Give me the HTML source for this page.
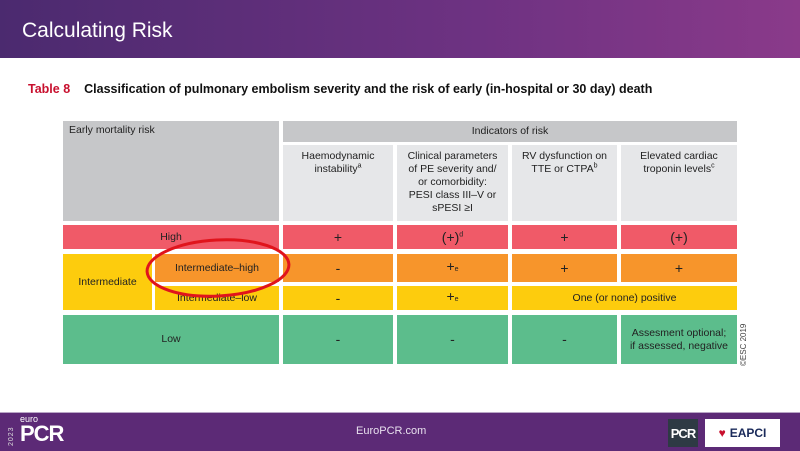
<!DOCTYPE html>
<html><head><meta charset="utf-8"><style>
body{margin:0;width:800px;height:450px;overflow:hidden;background:#fff;font-family:"Liberation Sans",sans-serif;position:relative}
.c{position:absolute;display:flex;align-items:center;justify-content:center;text-align:center;font-size:10.5px;color:#222;line-height:13px;box-sizing:border-box}
.g{background:#c6c7c9}.lg{background:#e6e7e9}.r{background:#f05a68}.o{background:#f7952b}.y{background:#fdcc0d}.gr{background:#5cbd8c}
.p{font-size:14px}
sup{font-size:7px;line-height:0}
</style></head><body>
<div style="position:absolute;left:0;top:0;width:800px;height:58px;background:linear-gradient(90deg,#4b2a6f,#6e3282 60%,#8a3a8a)"></div>
<div style="position:absolute;left:22px;top:19px;color:#fff;font-size:21px">Calculating Risk</div>
<div style="position:absolute;left:28px;top:82px;font-size:12.5px;font-weight:bold;color:#111"><span style="color:#c8102e;margin-right:14px">Table 8</span>Classification of pulmonary embolism severity and the risk of early (in-hospital or 30 day) death</div>

<div class="c g" style="left:63px;top:121px;width:216px;height:100px;align-items:flex-start;justify-content:flex-start;padding:3px 6px">Early mortality risk</div>
<div class="c g" style="left:283px;top:121px;width:454px;height:21px">Indicators of risk</div>
<div class="c lg" style="left:283px;top:145px;width:110px;height:76px;align-items:flex-start;padding-top:5px"><div>Haemodynamic<br>instability<sup>a</sup></div></div>
<div class="c lg" style="left:397px;top:145px;width:111px;height:76px;align-items:flex-start;padding-top:5px"><div>Clinical parameters<br>of PE severity and/<br>or comorbidity:<br>PESI class III–V or<br>sPESI ≥I</div></div>
<div class="c lg" style="left:512px;top:145px;width:105px;height:76px;align-items:flex-start;padding-top:5px"><div>RV dysfunction on<br>TTE or CTPA<sup>b</sup></div></div>
<div class="c lg" style="left:621px;top:145px;width:116px;height:76px;align-items:flex-start;padding-top:5px"><div>Elevated cardiac<br>troponin levels<sup>c</sup></div></div>

<div class="c r" style="left:63px;top:225px;width:216px;height:24px">High</div>
<div class="c r p" style="left:283px;top:225px;width:110px;height:24px">+</div>
<div class="c r p" style="left:397px;top:225px;width:111px;height:24px"><div>(+)<sup>d</sup></div></div>
<div class="c r p" style="left:512px;top:225px;width:105px;height:24px">+</div>
<div class="c r p" style="left:621px;top:225px;width:116px;height:24px">(+)</div>

<div class="c y" style="left:63px;top:254px;width:89px;height:56px">Intermediate</div>
<div class="c o" style="left:155px;top:254px;width:124px;height:28px">Intermediate–high</div>
<div class="c o p" style="left:283px;top:254px;width:110px;height:28px">-</div>
<div class="c o p" style="left:397px;top:254px;width:111px;height:28px"><div>+<span style="font-size:7px">e</span></div></div>
<div class="c o p" style="left:512px;top:254px;width:105px;height:28px">+</div>
<div class="c o p" style="left:621px;top:254px;width:116px;height:28px">+</div>

<div class="c y" style="left:155px;top:286px;width:124px;height:24px">Intermediate–low</div>
<div class="c y p" style="left:283px;top:286px;width:110px;height:24px">-</div>
<div class="c y p" style="left:397px;top:286px;width:111px;height:24px"><div>+<span style="font-size:7px">e</span></div></div>
<div class="c y" style="left:512px;top:286px;width:225px;height:24px">One (or none) positive</div>

<div class="c gr" style="left:63px;top:315px;width:216px;height:49px">Low</div>
<div class="c gr p" style="left:283px;top:315px;width:110px;height:49px">-</div>
<div class="c gr p" style="left:397px;top:315px;width:111px;height:49px">-</div>
<div class="c gr p" style="left:512px;top:315px;width:105px;height:49px">-</div>
<div class="c gr" style="left:621px;top:315px;width:116px;height:49px"><div>Assesment optional;<br>if assessed, negative</div></div>
<div style="position:absolute;left:739px;top:366px;transform:rotate(-90deg);transform-origin:0 0;font-size:8px;color:#444;white-space:nowrap">©ESC 2019</div>

<svg style="position:absolute;left:0;top:0" width="800" height="450"><ellipse cx="218" cy="268" rx="71" ry="28" fill="none" stroke="#e0141c" stroke-width="3" transform="rotate(-3 218 268)"/></svg>

<div style="position:absolute;left:0;top:412px;width:800px;height:38px;background:#5c2a76;border-top:1px solid #b9a6c6"></div>
<div style="position:absolute;left:8px;top:414px;color:#fff">
<span style="position:absolute;left:0;top:32px;transform:rotate(-90deg);transform-origin:0 0;font-size:7px;letter-spacing:1px;color:#ddd">2023</span>
<span style="position:absolute;left:12px;top:0;font-size:9px">euro</span>
<span style="position:absolute;left:12px;top:7px;font-size:22px;font-weight:bold;letter-spacing:-1px">PCR</span></div>
<div style="position:absolute;left:356px;top:425px;color:#e8e0ee;font-size:11px">EuroPCR.com</div>
<div style="position:absolute;left:668px;top:419px;width:30px;height:28px;background:#2e3a44;color:#fff;font-weight:bold;font-size:13px;display:flex;align-items:center;justify-content:center;letter-spacing:-1px">PCR</div>
<div style="position:absolute;left:705px;top:419px;width:75px;height:28px;background:#fff;display:flex;align-items:center;justify-content:center;font-weight:bold;font-size:12px;color:#1a2a5a"><span style="color:#c8102e;margin-right:4px">♥</span>EAPCI</div>
</body></html>
